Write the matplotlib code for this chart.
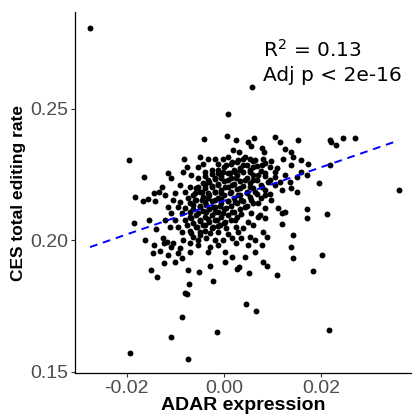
import numpy as np
import matplotlib
matplotlib.use("Agg")
import matplotlib.pyplot as plt

# samples outside the central cloud (ADAR expression, CES total editing rate)
x_outer = [-0.0276, 0.0058, 0.0008, -0.0196, -0.0165, -0.0128, -0.0144, -0.0134, -0.0184, -0.0167,
           -0.0157, -0.0142, -0.0186, -0.0155, -0.0140, -0.0163, -0.0126, -0.0124, -0.0144, -0.0132,
           -0.0146, -0.0124, -0.0151, -0.0138, -0.0080, -0.0087, -0.0109, -0.0194, -0.0074, -0.0052,
           -0.0029, 0.0027, 0.0031, 0.0052, 0.0089, 0.0109, -0.0072, -0.0023, -0.0076, 0.0045,
           0.0066, -0.0014, -0.0074, 0.0202, 0.0184, 0.0216, 0.0219, 0.0221, 0.0231, 0.0245,
           0.0270, 0.0173, 0.0219, 0.0171, 0.0196, 0.0361, 0.0171, 0.0171, 0.0212]
y_outer = [0.2806, 0.2581, 0.2479, 0.2304, 0.2239, 0.2201, 0.2179, 0.2182, 0.2163, 0.2148,
           0.2156, 0.2148, 0.2065, 0.2076, 0.2042, 0.2000, 0.2008, 0.1989, 0.1981, 0.1958,
           0.1951, 0.1913, 0.1886, 0.1859, 0.1799, 0.1707, 0.1631, 0.1570, 0.1886, 0.1878,
           0.1901, 0.1890, 0.1897, 0.1875, 0.1901, 0.1867, 0.1833, 0.1844, 0.1795, 0.1757,
           0.1730, 0.1650, 0.1548, 0.1943, 0.1882, 0.1658, 0.2380, 0.2373, 0.2361, 0.2388,
           0.2388, 0.2289, 0.2285, 0.2247, 0.2217, 0.2190, 0.2118, 0.2084, 0.2099]

# central cloud, read band by band from top to bottom
x_core = [-0.0041, 0.0007, 0.0026, 0.0049, 0.0063, 0.0105, 0.0115, 0.0153, 0.0056, 0.0078,
          0.0083, 0.0126, 0.0138, 0.0019, 0.0031, -0.0082,
          -0.0049, -0.0032, -0.0019, -0.0001, 0.0009, 0.0016, 0.0030, 0.0043, 0.0054, 0.0064,
          0.0081, 0.0097, 0.0122, 0.0143, 0.0159, -0.0075, -0.0053, -0.0043, -0.0012, 0.0005,
          0.0040, 0.0060, 0.0078, 0.0109, 0.0139,
          -0.0115, -0.0084, -0.0067, -0.0039, -0.0025, -0.0012, -0.0001, 0.0012, 0.0023, 0.0033,
          0.0054, 0.0071, 0.0085, 0.0105, 0.0126, 0.0150, 0.0160, -0.0108, -0.0053, -0.0032,
          -0.0019, -0.0005, 0.0009, 0.0026, 0.0043, 0.0060, 0.0091, 0.0115, 0.0136,
          -0.0091, -0.0070, -0.0053, -0.0039, -0.0025, -0.0012, 0.0002, 0.0016, 0.0033, 0.0054,
          0.0078, 0.0119, 0.0139, -0.0101, -0.0080, -0.0060, -0.0046, -0.0032, -0.0019, -0.0005,
          0.0012, 0.0030, 0.0047, 0.0064, 0.0085, 0.0150,
          -0.0122, -0.0104, -0.0091, -0.0074, -0.0060, -0.0046, -0.0032, -0.0019, -0.0005, 0.0009,
          0.0023, 0.0036, 0.0057, 0.0071, 0.0098, -0.0115, -0.0094, -0.0080, -0.0063, -0.0049,
          -0.0036, -0.0022, -0.0008, 0.0005, 0.0043, 0.0085, 0.0112, 0.0126,
          -0.0108, -0.0087, -0.0070, -0.0053, -0.0036, -0.0019, -0.0001, 0.0016, 0.0036, 0.0057,
          0.0074, 0.0119, -0.0122, -0.0101, -0.0080, -0.0067, -0.0049, -0.0032, -0.0015, 0.0002,
          0.0023, 0.0050, 0.0071, 0.0085,
          -0.0111, -0.0094, -0.0077, -0.0056, -0.0039, -0.0022, -0.0008, 0.0005, 0.0026, 0.0040,
          0.0060, 0.0119, -0.0087, -0.0067, -0.0049, -0.0029, -0.0012, 0.0009, 0.0030, 0.0081,
          0.0143, 0.0088,
          -0.0118, -0.0104, -0.0084, -0.0070, -0.0053, -0.0036, -0.0019, -0.0001, 0.0016, 0.0036,
          0.0054, 0.0064, -0.0108, -0.0091, -0.0053, -0.0029, -0.0012, 0.0026, 0.0050, 0.0078,
          0.0139,
          -0.0115, -0.0094, -0.0070, -0.0032, 0.0002, 0.0016, 0.0064, 0.0081, 0.0043, -0.0101,
          -0.0087, 0.0143, 0.0002]
y_core = [0.2386, 0.2397, 0.2380, 0.2374, 0.2389, 0.2393, 0.2374, 0.2380, 0.2359, 0.2351,
          0.2336, 0.2348, 0.2333, 0.2342, 0.2336, 0.2308,
          0.2317, 0.2310, 0.2310, 0.2310, 0.2317, 0.2298, 0.2304, 0.2317, 0.2310, 0.2304,
          0.2310, 0.2300, 0.2310, 0.2317, 0.2304, 0.2279, 0.2279, 0.2291, 0.2291, 0.2285,
          0.2285, 0.2279, 0.2285, 0.2272, 0.2285,
          0.2253, 0.2260, 0.2247, 0.2260, 0.2266, 0.2253, 0.2260, 0.2253, 0.2260, 0.2266,
          0.2260, 0.2247, 0.2253, 0.2241, 0.2247, 0.2241, 0.2260, 0.2234, 0.2234, 0.2228,
          0.2237, 0.2234, 0.2228, 0.2234, 0.2228, 0.2228, 0.2222, 0.2222, 0.2222,
          0.2209, 0.2203, 0.2203, 0.2209, 0.2203, 0.2209, 0.2203, 0.2209, 0.2196, 0.2203,
          0.2203, 0.2190, 0.2196, 0.2177, 0.2184, 0.2177, 0.2184, 0.2177, 0.2184, 0.2177,
          0.2177, 0.2171, 0.2177, 0.2184, 0.2171, 0.2184,
          0.2171, 0.2152, 0.2146, 0.2158, 0.2152, 0.2152, 0.2158, 0.2152, 0.2156, 0.2148,
          0.2146, 0.2152, 0.2152, 0.2139, 0.2152, 0.2127, 0.2127, 0.2123, 0.2133, 0.2127,
          0.2133, 0.2127, 0.2131, 0.2123, 0.2127, 0.2120, 0.2120, 0.2108,
          0.2101, 0.2101, 0.2108, 0.2101, 0.2105, 0.2108, 0.2101, 0.2105, 0.2098, 0.2101,
          0.2095, 0.2101, 0.2076, 0.2076, 0.2076, 0.2082, 0.2076, 0.2080, 0.2076, 0.2070,
          0.2076, 0.2070, 0.2089, 0.2082,
          0.2051, 0.2051, 0.2057, 0.2051, 0.2057, 0.2051, 0.2057, 0.2044, 0.2051, 0.2044,
          0.2057, 0.2060, 0.2032, 0.2025, 0.2032, 0.2025, 0.2029, 0.2022, 0.2032, 0.2032,
          0.2019, 0.2013,
          0.1994, 0.1987, 0.2000, 0.1987, 0.2000, 0.2006, 0.2000, 0.2000, 0.2006, 0.2006,
          0.2013, 0.2000, 0.1975, 0.1968, 0.1981, 0.1975, 0.1981, 0.1987, 0.1981, 0.1981,
          0.1975,
          0.1943, 0.1949, 0.1956, 0.1956, 0.1956, 0.1937, 0.1956, 0.1918, 0.1937, 0.1918,
          0.1930, 0.1930, 0.1918]

# overlapping points in the solid black middle of the cloud (x value, y values at it)
dense_x = [-0.0070, -0.0063, -0.0057, -0.0050, -0.0044, -0.0038, -0.0031, -0.0025, -0.0018,
           -0.0012, -0.0006, 0.0001, 0.0008, 0.0014, 0.0021, 0.0027, 0.0034, 0.0040, 0.0047,
           0.0054, 0.0061, 0.0068, 0.0076, 0.0085, 0.0095, 0.0105]
dense_y = [
    [0.2035, 0.2088, 0.2142],
    [0.2012, 0.2066, 0.2119, 0.2170],
    [0.2048, 0.2097, 0.2153, 0.2196],
    [0.2021, 0.2074, 0.2131, 0.2182],
    [0.2059, 0.2110, 0.2164, 0.2215],
    [0.2036, 0.2089, 0.2143, 0.2198, 0.2243],
    [0.2068, 0.2118, 0.2171, 0.2221],
    [0.2045, 0.2096, 0.2148, 0.2204, 0.2252],
    [0.2077, 0.2127, 0.2183, 0.2233],
    [0.2055, 0.2106, 0.2161, 0.2213, 0.2268],
    [0.2087, 0.2139, 0.2192, 0.2244],
    [0.2063, 0.2117, 0.2170, 0.2225, 0.2276],
    [0.2096, 0.2149, 0.2203, 0.2256],
    [0.2075, 0.2128, 0.2182, 0.2237, 0.2289],
    [0.2107, 0.2160, 0.2214, 0.2265],
    [0.2088, 0.2139, 0.2193, 0.2246, 0.2296],
    [0.2119, 0.2171, 0.2224, 0.2275],
    [0.2150, 0.2204, 0.2257, 0.2308],
    [0.2131, 0.2183, 0.2236, 0.2285],
    [0.2162, 0.2215, 0.2268],
    [0.2142, 0.2196, 0.2249, 0.2299],
    [0.2176, 0.2229, 0.2281],
    [0.2158, 0.2210, 0.2262],
    [0.2191, 0.2243, 0.2294],
    [0.2175, 0.2227, 0.2276],
    [0.2208, 0.2259],
]

# least-squares line as drawn in the original figure (intercept, slope)
fit_intercept = 0.2149
fit_slope = 0.637

x_ticks = [-0.02, 0.00, 0.02]
x_labels = ["-0.02", "0.00", "0.02"]
y_ticks = [0.15, 0.20, 0.25]
y_labels = ["0.15", "0.20", "0.25"]

x_dense = np.repeat(dense_x, [len(c) for c in dense_y])
y_dense = np.concatenate(dense_y)
x = np.concatenate([x_outer, x_core, x_dense])
y = np.concatenate([y_outer, y_core, y_dense])

fig = plt.figure(figsize=(4.12, 4.15), dpi=100)
ax = fig.add_axes([0.182, 0.101, 0.818, 0.870])

ax.scatter(x, y, s=18, color="black", linewidths=0, zorder=2)

# fitted line over the data range
xs = np.array([x.min(), x.max()])
ax.plot(xs, fit_intercept + fit_slope * xs, color="#0000FF", lw=1.4,
        linestyle=(0, (4, 3)), zorder=3)

ax.text(0.0080, 0.2696, r"R$^2$ = 0.13", fontsize=14.5, ha="left", va="baseline")
ax.text(0.0080, 0.2606, "Adj p < 2e-16", fontsize=14.5, ha="left", va="baseline")

ax.set_xlim(-0.0307, 0.0388)
ax.set_ylim(0.1494, 0.2867)
ax.set_xticks(x_ticks)
ax.set_xticklabels(x_labels)
ax.set_yticks(y_ticks)
ax.set_yticklabels(y_labels)

for side in ["top", "right"]:
    ax.spines[side].set_visible(False)
for side in ["left", "bottom"]:
    ax.spines[side].set_color("black")
    ax.spines[side].set_linewidth(0.9)

ax.tick_params(length=3, width=0.8, color="#333333", labelcolor="#4D4D4D",
               labelsize=14, pad=2)
for lab in ax.get_xticklabels() + ax.get_yticklabels():
    lab.set_family("Liberation Sans")

ax.set_xlabel("ADAR expression", fontsize=14, fontweight="bold",
              family="Liberation Sans", labelpad=0)
ax.set_ylabel("CES total editing rate", fontsize=12.5, fontweight="bold",
              family="Liberation Sans", labelpad=3)

fig.savefig("out.png", dpi=100)
